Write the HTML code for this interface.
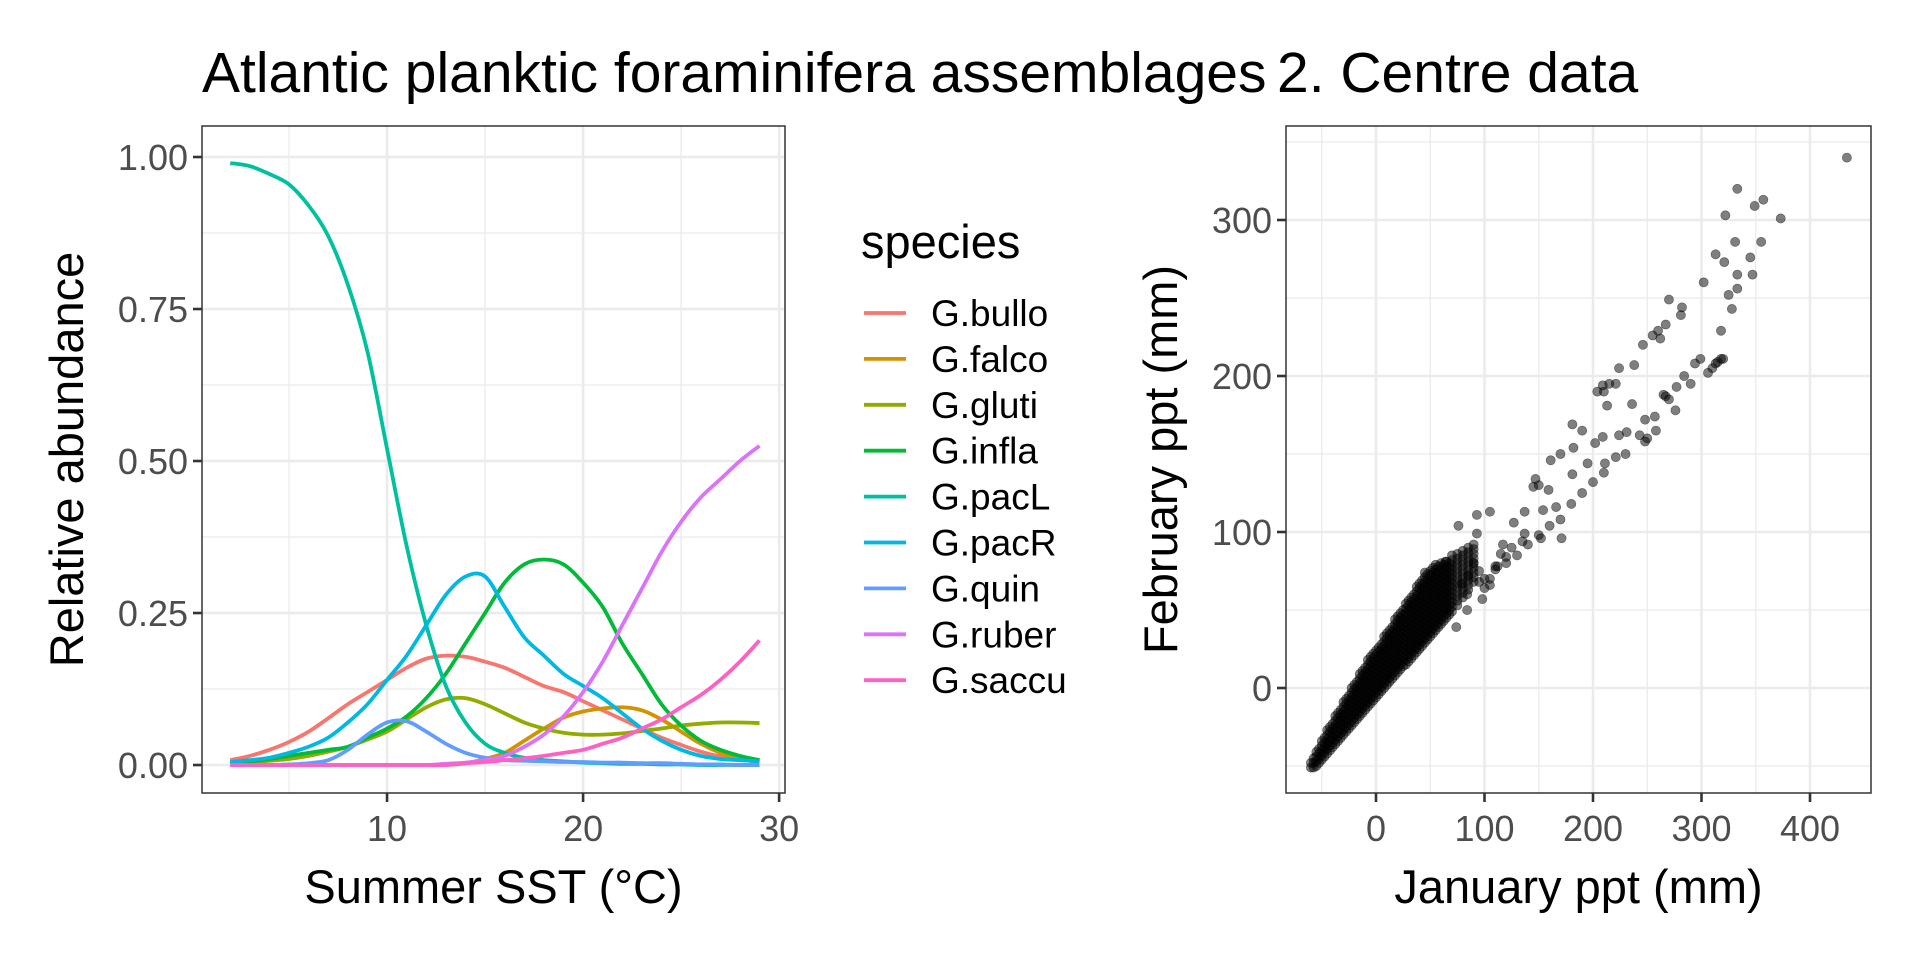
<!DOCTYPE html>
<html><head><meta charset="utf-8"><style>
html,body{margin:0;padding:0;background:#fff}
svg{display:block;font-family:"Liberation Sans",Arial,sans-serif}
</style></head><body>
<svg id="fig" width="1920" height="960" viewBox="0 0 1920 960">
<text x="202" y="92" font-size="57" fill="#000">Atlantic planktic foraminifera assemblages</text>
<text x="1277" y="92" font-size="57" fill="#000">2. Centre data</text>
<g id="left"></g>
<g id="legend"></g>
<g id="right"></g>
</svg>
<script>
const NS="http://www.w3.org/2000/svg";
// ---- left chart data ----
const sstX=[2,3,4,5,6,7,8,9,10,11,12,13,14,15,16,17,18,19,20,21,22,23,24,25,26,27,28,29];
const speciesNames=["G.bullo","G.falco","G.gluti","G.infla","G.pacL","G.pacR","G.quin","G.ruber","G.saccu"];
const speciesColors=["#F8766D","#D39200","#93AA00","#00BA38","#00C19F","#00B9E3","#619CFF","#DB72FB","#FF61C3"];
const bullo=[.008,.015,.025,.038,.055,.077,.1,.12,.14,.16,.175,.18,.178,.17,.16,.145,.13,.12,.105,.09,.075,.06,.045,.033,.022,.014,.009,.006];
const falco=[0,0,0,0,0,0,0,0,0,0,0,0,.003,.01,.02,.04,.06,.078,.088,.093,.095,.09,.075,.055,.035,.02,.01,.005];
const gluti=[.002,.004,.007,.01,.015,.022,.03,.042,.055,.075,.095,.108,.11,.1,.085,.07,.06,.053,.05,.05,.052,.056,.06,.065,.068,.07,.07,.069];
const infla=[.003,.006,.01,.015,.02,.025,.03,.045,.06,.08,.11,.15,.2,.25,.3,.33,.338,.33,.3,.26,.2,.15,.1,.065,.04,.025,.015,.008];
const pacL=[.99,.985,.972,.955,.92,.87,.79,.68,.52,.36,.23,.13,.07,.035,.02,.012,.008,.006,.004,.003,.002,.002,.001,.001,0,0,0,0];
const pacR=[.005,.008,.012,.02,.03,.045,.07,.1,.14,.18,.23,.28,.31,.31,.26,.21,.18,.15,.13,.11,.085,.06,.04,.025,.015,.01,.008,.006];
const quin=[0,0,0,.001,.003,.008,.025,.05,.07,.072,.055,.035,.02,.012,.008,.007,.006,.005,.005,.004,.004,.003,.003,.002,.001,.001,0,0];
const ruber=[0,0,0,0,0,0,0,0,0,0,0,.002,.004,.008,.015,.03,.05,.08,.12,.17,.23,.29,.35,.4,.44,.47,.5,.525];
const saccu=[0,0,0,0,0,0,0,0,0,0,0,0,.003,.005,.008,.011,.015,.02,.025,.035,.045,.06,.075,.095,.115,.14,.17,.205];
const leftXTicks=[10,20,30];
const leftYTicks=[0,0.25,0.5,0.75,1];
const leftYTickLabels=["0.00","0.25","0.50","0.75","1.00"];
// ---- right chart data ----
const bandJan=[-60,-57.5,-55,-52.5,-50,-47.5,-45,-42.5,-40,-37.5,-35,-32.5,-30,-27.5,-25,-22.5,-20,-17.5,-15,-12.5,-10,-7.5,-5,-2.5,0,2.5,5,7.5,10,12.5,15,17.5,20,22.5,25,27.5,30,32.5,35,37.5,40,42.5,45,47.5,50,52.5,55,57.5,60,62.5,65,67.5,70,75,80,85,90];
const bandLo=[-51,-51,-50,-48,-46,-44,-42,-40,-38,-36,-34,-32,-30,-28,-26,-24,-22,-20,-18,-16,-14,-12,-10,-8,-6,-4,-2,0,2,4,6,8,10,12,14,15,17,19,21,23,25,27,29,31,33,35,37,39,41,43,45,47,49,53,58,63,68];
const bandHi=[-47,-44,-40,-37,-33,-30,-27,-24,-21,-18,-15,-12,-9,-6,-3,0,3,6,9,12,15,18,20,22,25,28,30,33,36,38,41,44,47,50,52,55,58,60,62,65,67,70,72,74,76,78,80,80,80,80,82,82,85,86,88,90,92];
const sparseJan=[434,333,349,357,373,322,331,355,313,321,345,333,347,302,333,325,328,318,270,282,281,267,260,262,255,246,238,224,204,209,221,213,236,306,294,299,318,313,284,277,265,267,276,257,248,258,243,248,231,224,209,202,211,221,195,181,182,181,161,147,159,166,145,154,137,127,105,93,76,93,137,152,171,117,112,105,79,84,45,64,74,98,84,130,150,170,190,210,230,250,270,290,310,320,315,200,180,160,140,120,110,100,95,150,170,190,210,215,85,90,100,110,120,125,135,115,105,95];
const sparseFeb=[340,320,309,313,301,303,286,286,278,273,276,265,265,260,256,252,243,229,249,244,239,233,229,224,226,220,207,205,190,194,195,181,182,202,208,211,211,208,200,193,188,187,178,174,172,165,162,158,164,162,161,157,144,148,144,137,154,169,146,134,127,116,129,114,113,106,113,111,104,99,99,96,96,92,78,66,67,60,74,81,39,57,50,85,98,108,125,138,150,160,185,195,205,211,209,132,118,104,92,80,76,70,68,130,150,165,190,195,72,80,64,78,84,90,94,86,70,75];
const rightXTicks=[0,100,200,300,400];
const rightYTicks=[0,100,200,300];

function el(tag,attrs,parent){const e=document.createElementNS(NS,tag);for(const k in attrs)e.setAttribute(k,attrs[k]);parent.appendChild(e);return e;}

// ---- left chart ----
(function(){
  const g=document.getElementById('left');
  const L=202,R=785,T=126,B=793;
  const xMin=0.56,xMax=30.3,yMin=-0.046,yMax=1.051;
  const sx=v=>L+(v-xMin)/(xMax-xMin)*(R-L);
  const sy=v=>B-(v-yMin)/(yMax-yMin)*(B-T);
  [5,15,25].forEach(v=>{const l=el('line',{x1:sx(v),x2:sx(v),y1:T,y2:B,stroke:'#EBEBEB','stroke-width':1.3},g);
    });
  [0.125,0.375,0.625,0.875].forEach(v=>{const l=el('line',{x1:L,x2:R,y1:sy(v),y2:sy(v),stroke:'#EBEBEB','stroke-width':1.3},g);
    });
  leftXTicks.forEach(v=>{const l=el('line',{x1:sx(v),x2:sx(v),y1:T,y2:B,stroke:'#EBEBEB','stroke-width':2.6},g);
    });
  leftYTicks.forEach(v=>{const l=el('line',{x1:L,x2:R,y1:sy(v),y2:sy(v),stroke:'#EBEBEB','stroke-width':2.6},g);
    });
  const series=[bullo,falco,gluti,infla,pacL,pacR,quin,ruber,saccu];
  series.forEach((ys,si)=>{
    const pts=sstX.map((x,i)=>[sx(x),sy(ys[i])]);
    let d='M'+pts[0][0]+','+pts[0][1];
    for(let i=0;i<pts.length-1;i++){
      const p0=pts[Math.max(0,i-1)],p1=pts[i],p2=pts[i+1],p3=pts[Math.min(pts.length-1,i+2)];
      const c1=[p1[0]+(p2[0]-p0[0])/6,p1[1]+(p2[1]-p0[1])/6];
      const c2=[p2[0]-(p3[0]-p1[0])/6,p2[1]-(p3[1]-p1[1])/6];
      d+=`C${c1[0]},${c1[1]} ${c2[0]},${c2[1]} ${p2[0]},${p2[1]}`;
    }
    const p=el('path',{d:d,fill:'none',stroke:speciesColors[si],'stroke-width':3.8,'stroke-linejoin':'round'},g);
    
    
  });
  const fr=el('rect',{x:L,y:T,width:R-L,height:B-T,fill:'none',stroke:'#333','stroke-width':1.5},g);
  
  leftYTicks.forEach((v,i)=>{
    const t=el('line',{x1:L-9,x2:L,y1:sy(v),y2:sy(v),stroke:'#333','stroke-width':2.6},g);
    
    const tx=el('text',{x:L-14,y:sy(v)+13,'text-anchor':'end','font-size':36,fill:'#4D4D4D'},g);
    tx.textContent=leftYTickLabels[i];
    
  });
  leftXTicks.forEach(v=>{
    const t=el('line',{x1:sx(v),x2:sx(v),y1:B,y2:B+9,stroke:'#333','stroke-width':2.6},g);
    
    const tx=el('text',{x:sx(v),y:B+48,'text-anchor':'middle','font-size':36,fill:'#4D4D4D'},g);
    tx.textContent=String(v);
    
  });
  const xt=el('text',{x:(L+R)/2,y:903,'text-anchor':'middle','font-size':47,fill:'#000'},g);
  xt.textContent='Summer SST (°C)';
  
  const yt=el('text',{x:0,y:0,'text-anchor':'middle','font-size':47,fill:'#000',transform:`translate(83,${(T+B)/2}) rotate(-90)`},g);
  yt.textContent='Relative abundance';
  
})();

// ---- legend ----
(function(){
  const g=document.getElementById('legend');
  const tt=el('text',{x:861,y:258,'font-size':47,fill:'#000'},g);
  tt.textContent='species';
  
  speciesNames.forEach((n,i)=>{
    const y=313+i*45.9;
    const l=el('line',{x1:864,x2:906,y1:y,y2:y,stroke:speciesColors[i],'stroke-width':3.8},g);
    
    const t=el('text',{x:931,y:y+13,'font-size':37,fill:'#000'},g);
    t.textContent=n;
    
  });
})();

// ---- right chart ----
(function(){
  const g=document.getElementById('right');
  const L=1286,R=1871,T=126,B=793;
  const x0=1376,x400=1810,y0=688,y300=220;
  const sx=v=>x0+v*(x400-x0)/400;
  const sy=v=>y0-v*(y0-y300)/300;
  [-50,50,150,250,350].forEach(v=>{const l=el('line',{x1:sx(v),x2:sx(v),y1:T,y2:B,stroke:'#EBEBEB','stroke-width':1.3},g);
    });
  [-50,50,150,250,350].forEach(v=>{const l=el('line',{x1:L,x2:R,y1:sy(v),y2:sy(v),stroke:'#EBEBEB','stroke-width':1.3},g);
    });
  rightXTicks.forEach(v=>{const l=el('line',{x1:sx(v),x2:sx(v),y1:T,y2:B,stroke:'#EBEBEB','stroke-width':2.6},g);
    });
  rightYTicks.forEach(v=>{const l=el('line',{x1:L,x2:R,y1:sy(v),y2:sy(v),stroke:'#EBEBEB','stroke-width':2.6},g);
    });
  const pts=el('g',{},g);
  
  bandJan.forEach((j,i)=>{
    for(let f=bandLo[i];f<=bandHi[i];f+=3){
      const c=el('circle',{cx:sx(j),cy:sy(f),r:4.6,fill:'rgba(0,0,0,0.5)',stroke:'rgba(0,0,0,0.5)','stroke-width':0.6},pts);
      
      
    }
  });
  sparseJan.forEach((j,i)=>{
    const c=el('circle',{cx:sx(j),cy:sy(sparseFeb[i]),r:4.6,fill:'rgba(0,0,0,0.5)',stroke:'rgba(0,0,0,0.5)','stroke-width':0.6},pts);
    
  });
  const fr=el('rect',{x:L,y:T,width:R-L,height:B-T,fill:'none',stroke:'#333','stroke-width':1.5},g);
  
  rightYTicks.forEach(v=>{
    const t=el('line',{x1:L-9,x2:L,y1:sy(v),y2:sy(v),stroke:'#333','stroke-width':2.6},g);
    
    const tx=el('text',{x:L-14,y:sy(v)+13,'text-anchor':'end','font-size':36,fill:'#4D4D4D'},g);
    tx.textContent=String(v);
    
  });
  rightXTicks.forEach(v=>{
    const t=el('line',{x1:sx(v),x2:sx(v),y1:B,y2:B+9,stroke:'#333','stroke-width':2.6},g);
    
    const tx=el('text',{x:sx(v),y:B+48,'text-anchor':'middle','font-size':36,fill:'#4D4D4D'},g);
    tx.textContent=String(v);
    
  });
  const xt=el('text',{x:(L+R)/2,y:903,'text-anchor':'middle','font-size':47,fill:'#000'},g);
  xt.textContent='January ppt (mm)';
  
  const yt=el('text',{x:0,y:0,'text-anchor':'middle','font-size':47,fill:'#000',transform:`translate(1177,${(T+B)/2}) rotate(-90)`},g);
  yt.textContent='February ppt (mm)';
  
})();
</script>
</body></html>
